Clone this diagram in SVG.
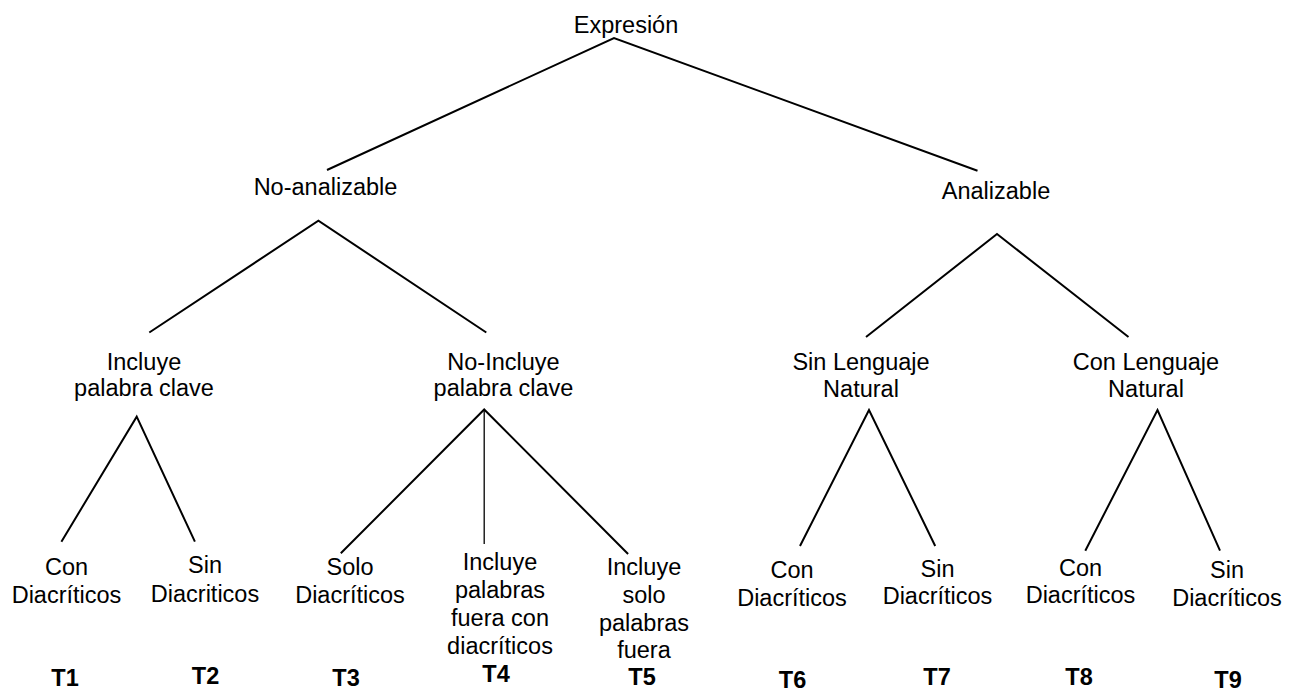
<svg xmlns="http://www.w3.org/2000/svg" width="1298" height="693" viewBox="0 0 1298 693">
<style>
.t{font-family:"Liberation Sans",Arial,sans-serif;font-size:23.5px;fill:#000;text-anchor:middle}
.b{font-weight:bold}
.c{fill:none;stroke:#000;stroke-width:2;stroke-linejoin:miter}
.thin{stroke-width:1.3}
</style>
<rect width="1298" height="693" fill="#fff"/>
<g id="connectors">
<path class="c" d="M327,170 L614,38 L977.5,170.7"/>
<path class="c" d="M149.3,332.5 L318.4,220.7 L486.3,332.5"/>
<path class="c" d="M866,337 L997,234 L1128.5,337"/>
<path class="c" d="M61.4,541.7 L136.7,416.7 L194.9,541.7"/>
<path class="c" d="M340.8,553.3 L484.2,409.5 L628.1,554"/>
<path class="c thin" d="M484.2,409.5 L484.2,544"/>
<path class="c" d="M800,546 L869,410 L935.2,546"/>
<path class="c" d="M1085.3,550.7 L1157.5,410 L1220,550.7"/>
</g>
<g id="n-expresion"><text class="t" x="626" y="33">Expresión</text></g>
<g id="n-noanalizable"><text class="t" x="325.5" y="195">No-analizable</text></g>
<g id="n-analizable"><text class="t" x="996" y="199">Analizable</text></g>
<g id="n-incluye"><text class="t" x="144" y="370">Incluye</text><text class="t" x="144" y="396">palabra clave</text></g>
<g id="n-noincluye"><text class="t" x="503.5" y="370">No-Incluye</text><text class="t" x="503.5" y="396">palabra clave</text></g>
<g id="n-sinlenguaje"><text class="t" x="861" y="370">Sin Lenguaje</text><text class="t" x="861" y="396.5">Natural</text></g>
<g id="n-conlenguaje"><text class="t" x="1146" y="370">Con Lenguaje</text><text class="t" x="1146" y="396.5">Natural</text></g>
<g id="n-t1"><text class="t" x="66.5" y="575">Con</text><text class="t" x="66.5" y="603">Diacríticos</text><text class="t b" x="65" y="686">T1</text></g>
<g id="n-t2"><text class="t" x="205" y="573">Sin</text><text class="t" x="205" y="601.5">Diacriticos</text><text class="t b" x="205.5" y="684">T2</text></g>
<g id="n-t3"><text class="t" x="350" y="575">Solo</text><text class="t" x="350" y="602.7">Diacríticos</text><text class="t b" x="346" y="686">T3</text></g>
<g id="n-t4"><text class="t" x="500" y="570">Incluye</text><text class="t" x="500" y="598">palabras</text><text class="t" x="500" y="626">fuera con</text><text class="t" x="500" y="654">diacríticos</text><text class="t b" x="496" y="681.5">T4</text></g>
<g id="n-t5"><text class="t" x="644" y="575">Incluye</text><text class="t" x="644" y="602.7">solo</text><text class="t" x="644" y="630.7">palabras</text><text class="t" x="644" y="658.3">fuera</text><text class="t b" x="642" y="685">T5</text></g>
<g id="n-t6"><text class="t" x="792" y="578.3">Con</text><text class="t" x="792" y="606">Diacríticos</text><text class="t b" x="792.5" y="688">T6</text></g>
<g id="n-t7"><text class="t" x="937.5" y="576.7">Sin</text><text class="t" x="937.5" y="604">Diacríticos</text><text class="t b" x="937" y="685">T7</text></g>
<g id="n-t8"><text class="t" x="1080.5" y="576">Con</text><text class="t" x="1080.5" y="603.3">Diacríticos</text><text class="t b" x="1079" y="685">T8</text></g>
<g id="n-t9"><text class="t" x="1227" y="578.3">Sin</text><text class="t" x="1227" y="606">Diacríticos</text><text class="t b" x="1228" y="688">T9</text></g>
</svg>
